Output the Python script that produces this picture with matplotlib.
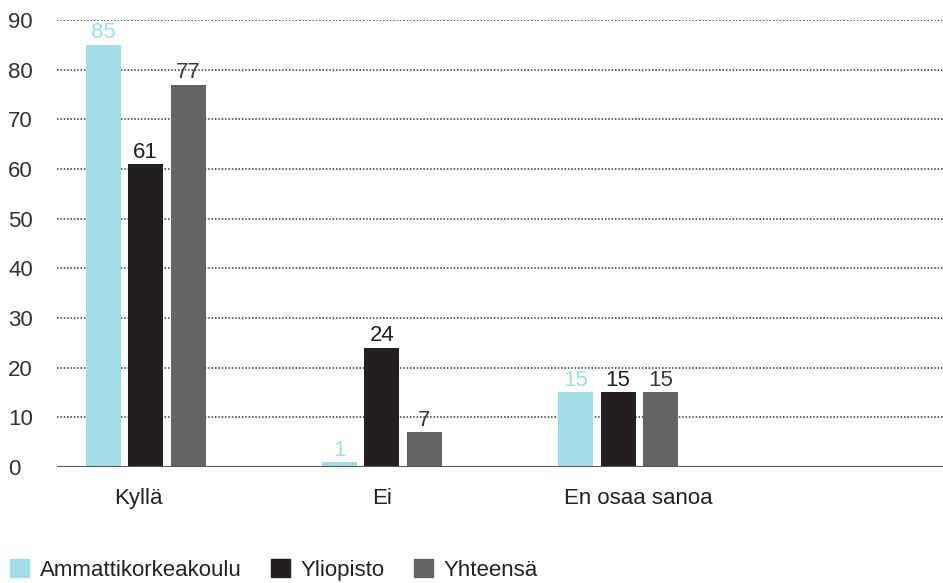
import matplotlib.pyplot as plt
import numpy as np
from matplotlib.patches import Patch

plt.rcParams['font.family'] = ['Liberation Sans', 'DejaVu Sans']

categories = ['Kyllä', 'Ei', 'En osaa sanoa', '']
series_names = ['Ammattikorkeakoulu', 'Yliopisto', 'Yhteensä']
amk = [85, 1, 15, None]
yliopisto = [61, 24, 15, None]
yhteensa = [77, 7, 15, None]
y_ticks = [0, 10, 20, 30, 40, 50, 60, 70, 80, 90]

colors = ['#a3dce5', '#231f20', '#646464']
label_colors = ['#a3dce5', '#231f20', '#3a3a3a']
fs = 16

fig = plt.figure(figsize=(9.43, 5.83), dpi=100, facecolor='w')
ax = fig.add_axes([0.0604, 0.199, 0.9396, 0.7667])

x = np.arange(len(categories))
width = 0.148
offsets = [-0.18, 0.0, 0.18]
for i, vals in enumerate([amk, yliopisto, yhteensa]):
    xs = [x[j] + offsets[i] for j in range(len(vals)) if vals[j] is not None]
    vs = [v for v in vals if v is not None]
    ax.bar(xs, vs, width, color=colors[i], zorder=3)
    for xx, v in zip(xs, vs):
        ax.text(xx, v + 0.3, str(v), ha='center', va='bottom', fontsize=fs,
                color=label_colors[i], zorder=4)

ax.set_xlim(-0.375, 3.375)
ax.set_ylim(0, 90)
ax.set_yticks(y_ticks)
ax.set_yticklabels([str(t) for t in y_ticks], fontsize=fs, color='#333333', ha='left')
ax.tick_params(axis='y', length=0, pad=35)
# category labels sit slightly off the group centres in the original
ax.set_xticks(x + np.array([-0.03, 0.0, 0.085, 0.0]))
ax.set_xticklabels(categories, fontsize=fs, color='#222222')
ax.tick_params(axis='x', length=0, pad=15)

for t in y_ticks[1:]:
    ax.axhline(t, color='#333333', lw=1.1, ls=(0, (1, 1.2)), zorder=1)
ax.axhline(0, color='#555555', lw=1.5, zorder=5)

for s in ax.spines.values():
    s.set_visible(False)

handles = [Patch(color=c) for c in colors]
fig.legend(handles, series_names, loc='lower left', bbox_to_anchor=(10 / 943, 0.004),
           ncol=3, frameon=False, fontsize=fs, handlelength=0.85, handleheight=0.85,
           handletextpad=0.5, columnspacing=1.3, borderpad=0, borderaxespad=0,
           labelcolor='#222222')

plt.savefig('out.png', dpi=100)
